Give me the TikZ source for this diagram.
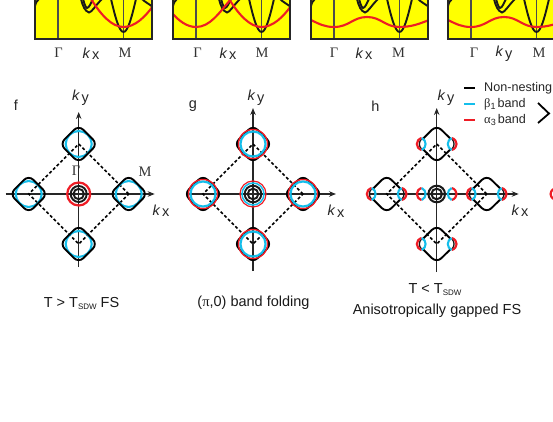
\documentclass[tikz,border=0pt]{standalone}
\usepackage{fontspec}
\setmainfont{Liberation Sans}
\newfontfamily\serifgr{Liberation Serif}
\usetikzlibrary{arrows.meta}
\definecolor{bandyellow}{RGB}{255,255,0}
\definecolor{bandred}{RGB}{238,28,37}
\definecolor{bandblue}{RGB}{20,190,235}
\tikzset{
  gammaline/.style={draw=black!70,line width=1.2pt},
  blackband/.style={draw=black!90,line width=1.9pt},
  redband/.style={draw=bandred,line width=2.1pt},
  fermiK/.style={draw=black,line width=1.9pt,rounded corners=6.5pt},
  fermiB/.style={draw=bandblue,line width=2.1pt},
  fermiR/.style={draw=bandred,line width=2.2pt},
  fermiC/.style={draw=black!90,line width=1.9pt},
  axisline/.style={draw=black!85,line width=1.1pt,-{Stealth[length=7pt,width=5.5pt]}},
  nest/.style={draw=black,line width=1.5pt,dash pattern=on 3pt off 2.2pt},
  lab/.style={inner sep=0pt,font=\fontsize{14.5}{15}\selectfont,text=black!85},
  ticklab/.style={inner sep=0pt,font=\serifgr\fontsize{14.5}{15}\selectfont,text=black!80},
  caplab/.style={inner sep=0pt,font=\fontsize{14.5}{15}\selectfont,text=black!90},
  leglab/.style={inner sep=0pt,anchor=west,font=\fontsize{12.6}{14}\selectfont,text=black!85},
  legline/.style={line width=2.2pt},
}
\newcommand{\kx}{\textit{k}\kern1.5pt\raisebox{-1.5pt}{x}}
\newcommand{\ky}{\textit{k}\kern1.5pt\raisebox{-2.5pt}{y}}
\newcommand{\fsdiamond}{\draw[fermiK] (0,-18.8) -- (18.8,0) -- (0,18.8) -- (-18.8,0) -- cycle;}
\newcommand{\fsblue}{\draw[fermiB] (0,-13) .. controls (7,-13) and (13,-7) .. (13,0) .. controls (13,7) and (7,13) .. (0,13) .. controls (-7,13) and (-13,7) .. (-13,0) .. controls (-13,-7) and (-7,-13) .. (0,-13) -- cycle;}
\newcommand{\lens}[1]{%
  \begin{scope}[xscale=#1]
    \draw[fermiR] (15,-6) .. controls (21.5,-4) and (21.5,4) .. (15,6);
    \draw[fermiB] (15,-6) .. controls (9.8,-3.5) and (9.8,3.5) .. (15,6);
  \end{scope}}
\newcommand{\lensk}[1]{%
  \begin{scope}[xscale=#1]
    \draw[fermiC,line width=1.3pt] (15.3,-5) .. controls (18,-2) and (18,2) .. (15.3,5);
  \end{scope}\lens{#1}}
\newcommand{\gappedpocket}{%
  \draw[fermiK] (-13.5,-5.5) -- (0,-18.8) -- (13.5,-5.5);
  \draw[fermiK] (-13.5,5.5) -- (0,18.8) -- (13.5,5.5);
  \lensk{1}\lensk{-1}}
\begin{document}
\begin{tikzpicture}[x=1pt,y=-1pt]
\useasboundingbox (0,0) rectangle (553,422);
\begin{scope}
\clip (0,0) rectangle (553,422);

\foreach \L/\W in {35/1,173/2,311/3,448/4}{
  \begin{scope}[shift={(\L,0)}]
    \begin{scope}
      \clip (-1,-1) rectangle (117,39);
      \fill[bandyellow] (0,-1) rectangle (117,39);
      \draw[gammaline] (23,-1) -- (23,39);
      \draw[gammaline] (88.5,-1) -- (88.5,39);
      \draw[blackband] (76,-1) .. controls (80,16) and (84,32) .. (88.5,32) .. controls (93,32) and (97,16) .. (101,-1);
      \draw[blackband] (46,-1) .. controls (48,7) and (50,11) .. (54,12.5) .. controls (57,12) and (60,6) .. (67,-1);
      \draw[blackband] (48,-1) .. controls (49,2) and (50,7) .. (52,8) .. controls (54,8) and (56,3) .. (58,-1);
      \draw[blackband] (107,-1) .. controls (110,2) and (114,4) .. (118,7);
      \draw[blackband] (0,6) .. controls (1,2) and (2,1) .. (4,-1);
      \ifnum\W=1
        \draw[redband] (56,-1) .. controls (66,15) and (77,27) .. (88.5,27) .. controls (100,27) and (110,17) .. (118,6);
      \fi
      \ifnum\W=2
        \draw[redband] (-1,13) .. controls (6,21) and (14,27) .. (23,27) .. controls (37,27) and (46,13) .. (58,-1);
        \draw[redband] (56,-1) .. controls (66,15) and (77,27) .. (88.5,27) .. controls (100,27) and (110,17) .. (118,6);
      \fi
      \ifnum\W>2
        \draw[redband] (0,20) .. controls (8,24) and (14,27) .. (23,27) .. controls (38,27) and (42,17) .. (56,17) .. controls (70,17) and (74,27) .. (88.5,27) .. controls (100,27) and (108,24) .. (118,20);
      \fi
    \end{scope}
    \draw[draw=black!85,line width=1.9pt] (0,-3) -- (0,39) -- (117,39) -- (117,-3);
  \end{scope}
}
\node[ticklab] (g1) at (58.5,53) {Γ};
\node[lab] (k1) at (91,53.5) {\kx};
\node[ticklab] (m1) at (125,53) {M};
\node[ticklab] (g2) at (197.5,53) {Γ};
\node[lab] (k2) at (228,53.5) {\kx};
\node[ticklab] (m2) at (262,53) {M};
\node[ticklab] (g3) at (334,53) {Γ};
\node[lab] (k3) at (364,53.5) {\kx};
\node[ticklab] (m3) at (398.5,53) {M};
\node[ticklab] (g4) at (474,53) {Γ};
\node[lab] (k4) at (504,54) {\ky};
\node[ticklab] (m4) at (539,53) {M};

% panel f
\begin{scope}[shift={(78.7,194)}]
  \coordinate (fL) at (-73,0); \coordinate (fR) at (76,0);
  \coordinate (fB) at (0,73); \coordinate (fT) at (0,-82);
  \draw[axisline] (fL) -- (fR);
  \draw[axisline] (fB) -- (fT);
  \draw[nest] (50,0) -- (0,-50) -- (-50,0) -- (0,50) -- cycle;
  \foreach \a/\b in {50/0,-50/0,0/-50,0/50}{
    \begin{scope}[shift={(\a,\b)}]\fsblue\fsdiamond\end{scope}
  }
  \draw[fermiR,line width=2.2pt] (0,0) circle (11.5);
  \draw[fermiC] (0,0) circle (8);
  \draw[fermiC] (0,0) circle (5.2);
\end{scope}
\node[ticklab] (gf) at (76,171) {Γ};
\node[ticklab] (mf) at (145,172) {M};
\node[lab] (kyf) at (80.5,98) {\ky};
\node[lab] (kxf) at (161,210.5) {\kx};
\node[lab] (lf) at (16,105.5) {f};

% panel g
\begin{scope}[shift={(253,194)}]
  \coordinate (gL) at (-66,0); \coordinate (gR) at (83,0);
  \coordinate (gB) at (0,77); \coordinate (gT) at (0,-86);
  \draw[axisline] (gL) -- (gR);
  \draw[axisline] (gB) -- (gT);
  \draw[nest] (50,0) -- (0,-50) -- (-50,0) -- (0,50) -- cycle;
  \foreach \a/\b in {50/0,-50/0,0/-50,0/50}{
    \begin{scope}[shift={(\a,\b)}]
      \fsdiamond
      \draw[fermiR,line width=1.4pt] (0,-14.5) .. controls (8,-14.5) and (14.5,-8) .. (14.5,0) .. controls (14.5,8) and (8,14.5) .. (0,14.5) .. controls (-8,14.5) and (-14.5,8) .. (-14.5,0) .. controls (-14.5,-8) and (-8,-14.5) .. (0,-14.5) -- cycle;
      \draw[fermiB] (0,0) circle (12.5);
    \end{scope}
  }
  \draw[fermiR,line width=1.2pt] (0,0) circle (13);
  \draw[fermiB,line width=1.5pt] (0,0) circle (11);
  \draw[fermiC] (0,0) circle (8.3);
  \draw[fermiC] (0,0) circle (5.3);
\end{scope}
\node[lab] (kyg) at (256,98) {\ky};
\node[lab] (kxg) at (336,211) {\kx};
\node[lab] (lg) at (193,106) {g};

% panel h
\begin{scope}[shift={(436.7,194)}]
  \coordinate (hL) at (-68,0); \coordinate (hR) at (82,0);
  \coordinate (hB) at (0,78); \coordinate (hT) at (0,-86);
  \draw[axisline] (hL) -- (hR);
  \draw[axisline] (hB) -- (hT);
  \draw[nest] (50,0) -- (0,-50) -- (-50,0) -- (0,50) -- cycle;
  \foreach \a/\b in {0/-50,0/50,-50/0,50/0}{
    \begin{scope}[shift={(\a,\b)}]\gappedpocket\end{scope}
  }
  \lens{1}\lens{-1}
  \draw[fermiC,line width=2pt] (0,0) circle (8.3);
  \draw[fermiC,line width=2pt] (0,0) circle (5.3);
  \draw[fermiR] (116.5,-5) .. controls (113,-2) and (113,2) .. (116.5,5);
\end{scope}
\node[lab] (kyh) at (446,98) {\ky};
\node[lab] (kxh) at (520,210.5) {\kx};
\node[lab] (lh) at (375.5,106) {h};

% legend
\coordinate (la) at (464,88); \coordinate (lb) at (475,88);
\coordinate (lc) at (464,104); \coordinate (ld) at (475,104);
\coordinate (le) at (464,120); \coordinate (lg2) at (475,120);
\draw[legline,draw=black] (la) -- (lb);
\draw[legline,draw=bandblue] (lc) -- (ld);
\draw[legline,draw=bandred] (le) -- (lg2);
\node[leglab] (t1) at (484,88) {Non-nesting};
\node[leglab] (t2) at (484,104) {{\serifgr β}\raisebox{-2pt}{\fontsize{9}{9}\selectfont 1}\,band};
\node[leglab] (t3) at (484,120) {{\serifgr α}\raisebox{-2pt}{\fontsize{9}{9}\selectfont 3}\,band};
\coordinate (ca) at (538,103); \coordinate (cb) at (549,113.5); \coordinate (cc) at (538,123);
\draw[black,line width=1.8pt] (ca) -- (cb) -- (cc);

% captions
\node[caplab] (cf) at (81.5,303) {T > T\raisebox{-2pt}{\fontsize{8}{8}\selectfont SDW} FS};
\node[caplab] (cg) at (253.5,303) {({\serifgr π},0) band folding};
\node[caplab] (ch1) at (435,290) {T < T\raisebox{-2pt}{\fontsize{8}{8}\selectfont SDW}};
\node[caplab] (ch2) at (437,310.5) {Anisotropically gapped FS};
\end{scope}
\end{tikzpicture}
\end{document}
